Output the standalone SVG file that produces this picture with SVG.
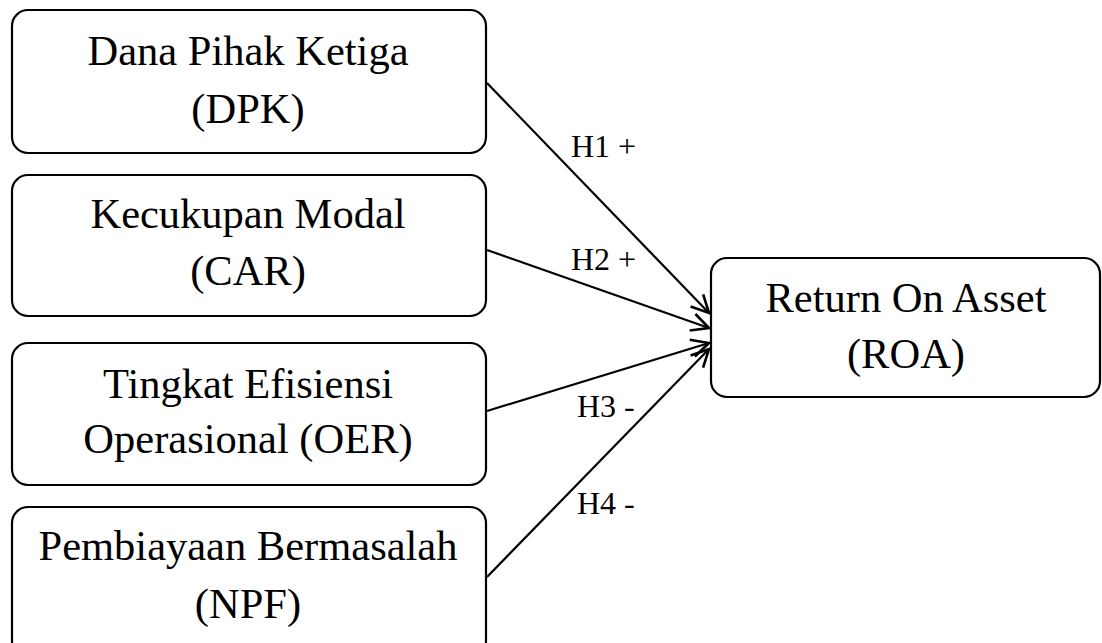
<svg xmlns="http://www.w3.org/2000/svg" width="1102" height="643" viewBox="0 0 1102 643">
<style>
.box{fill:#fff;stroke:#000;stroke-width:2.2}
.t{font-family:"Liberation Serif","Times New Roman",serif;font-size:42.5px;fill:#000;text-anchor:middle}
.lbl{font-family:"Liberation Serif","Times New Roman",serif;font-size:32px;fill:#000}
.c{stroke:#000;stroke-width:2.2;fill:none;marker-end:url(#ah)}
</style>
<defs>
<marker id="ah" markerUnits="userSpaceOnUse" markerWidth="24" markerHeight="24" viewBox="-20 -10 22 20" refX="0" refY="0" orient="auto">
<path d="M-16,-8 L0,0 L-16,8" fill="none" stroke="#000" stroke-width="2.4" stroke-linejoin="miter"/>
</marker>
</defs>
<g id="connectors">
<line class="c" x1="487" y1="83" x2="709" y2="313"/>
<line class="c" x1="487" y1="250" x2="709" y2="328"/>
<line class="c" x1="487" y1="411" x2="709" y2="343"/>
<line class="c" x1="487" y1="577" x2="709" y2="349"/>
<text class="lbl" x="571" y="157">H1 +</text>
<text class="lbl" x="571" y="270">H2 +</text>
<text class="lbl" x="577" y="417">H3 -</text>
<text class="lbl" x="577" y="514">H4 -</text>
</g>
<g id="dpk">
<rect class="box" x="12" y="10" width="474" height="143" rx="16"/>
<text class="t" x="248" y="65">Dana Pihak Ketiga</text>
<text class="t" x="248" y="123">(DPK)</text>
</g>
<g id="car">
<rect class="box" x="12" y="175" width="474" height="141" rx="16"/>
<text class="t" x="248" y="228">Kecukupan Modal</text>
<text class="t" x="248" y="285">(CAR)</text>
</g>
<g id="oer">
<rect class="box" x="12" y="343" width="474" height="142" rx="16"/>
<text class="t" x="248" y="398">Tingkat Efisiensi</text>
<text class="t" x="248" y="453">Operasional (OER)</text>
</g>
<g id="npf">
<rect class="box" x="12" y="507" width="474" height="150" rx="16"/>
<text class="t" x="248" y="560">Pembiayaan Bermasalah</text>
<text class="t" x="248" y="618">(NPF)</text>
</g>
<g id="roa">
<rect class="box" x="711" y="258" width="389" height="139" rx="16"/>
<text class="t" x="906" y="312">Return On Asset</text>
<text class="t" x="906" y="368">(ROA)</text>
</g>
</svg>
